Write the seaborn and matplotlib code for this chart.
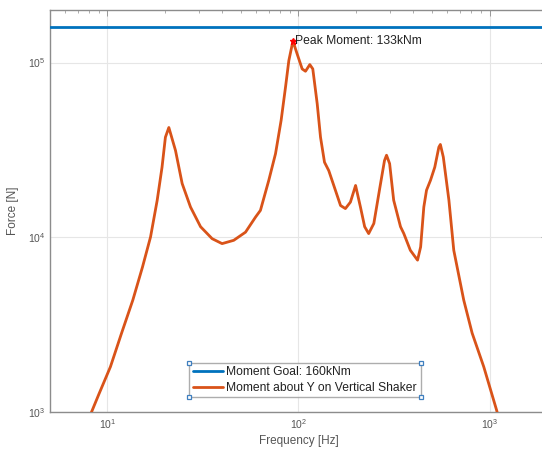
import numpy as np
import pandas as pd
import matplotlib
matplotlib.use("Agg")
import matplotlib.pyplot as plt
import seaborn as sns
from matplotlib.ticker import LogLocator, NullFormatter
from matplotlib.lines import Line2D

# ---- data ----
freq_hz = [7.5, 8.25, 9.0, 10.36, 11.84, 13.57, 15.25, 16.8, 18.2, 19.3, 20.1, 20.95,
           22.7, 24.6, 27.2, 30.7, 35.3, 39.8, 45.8, 52.8, 59.6, 63.2, 69.9, 75.8,
           81.1, 85.5, 89.0, 93.5, 98.4, 104.5, 108.8, 114.6, 118.8, 125.3, 130.4,
           136.8, 144, 156, 166, 176, 187, 199, 211, 222, 233, 248, 267, 282, 289,
           300, 315, 342, 356, 385, 420, 436, 453, 468, 491, 517, 543, 553, 573,
           613, 650, 733, 811, 933, 1089, 1200]
force_n = [790, 1000, 1260, 1815, 2820, 4370, 6760, 10040, 16260, 25200, 37400, 42500,
           31400, 20300, 14900, 11500, 9820, 9200, 9610, 10700, 13060, 14260, 21200, 30100,
           46700, 72300, 102600, 133000, 112000, 92000, 89200, 97400, 92000, 58100, 37400,
           26900, 24100, 18600, 15200, 14600, 15900, 19800, 14900, 11500, 10500, 12000, 19400, 27500, 29500,
           26400, 16300, 11500, 10500, 8430, 7400, 8810, 14900, 18600, 21200, 25200, 32800, 34000, 28800,
           16300, 8430, 4370, 2830, 1815, 1026, 685]
goal_n = 160000
peak_freq = 93.5
peak_force = 133000
series_goal = "Moment Goal: 160kNm"
series_moment = "Moment about Y on Vertical Shaker"
peak_label = "Peak Moment: 133kNm"
x_label = "Frequency [Hz]"
y_label = "Force [N]"

sns.set_style("white")
plt.rcParams["font.family"] = ["Liberation Sans", "DejaVu Sans"]
plt.rcParams["mathtext.fontset"] = "custom"
plt.rcParams["mathtext.rm"] = "Liberation Sans"

blue = "#0072BD"
orange = "#D95319"
spine_c = "#8c8c8c"

fig = plt.figure(figsize=(5.42, 4.5), dpi=100)
ax = fig.add_axes([50 / 542, 1 - 412 / 450, 497 / 542, 402 / 450])

df = pd.DataFrame({"freq": freq_hz, "force": force_n})
ax.axhline(goal_n, color=blue, lw=2.0, label=series_goal, zorder=3)
sns.lineplot(data=df, x="freq", y="force", ax=ax, color=orange, lw=2.0,
             label=series_moment, sort=False, zorder=4)
ax.plot([peak_freq], [peak_force], marker="*", color="red", ms=5, ls="none", zorder=5)
ax.text(peak_freq * 1.03, peak_force, peak_label, fontsize=8.7, color="#222222",
        va="center", ha="left", zorder=6)

ax.set_xscale("log")
ax.set_yscale("log")
ax.set_xlim(5, 2000)
ax.set_ylim(1e3, 2e5)

ax.xaxis.set_major_locator(LogLocator(base=10, numticks=10))
ax.xaxis.set_minor_locator(LogLocator(base=10, subs=np.arange(2, 10), numticks=20))
ax.yaxis.set_major_locator(LogLocator(base=10, numticks=10))
ax.yaxis.set_minor_locator(LogLocator(base=10, subs=np.arange(2, 10), numticks=20))
ax.xaxis.set_minor_formatter(NullFormatter())
ax.yaxis.set_minor_formatter(NullFormatter())

ax.grid(True, which="major", color="#e6e6e6", lw=0.8)
ax.set_axisbelow(True)
ax.tick_params(which="both", direction="in", top=True, right=True, color=spine_c,
               labelsize=7.5, labelcolor="#555555")
ax.tick_params(which="major", length=4, width=0.6)
ax.tick_params(which="minor", length=2, width=0.5)
for s in ax.spines.values():
    s.set_color(spine_c)
    s.set_linewidth(1.0)

ax.set_xlabel(x_label, fontsize=8.5, color="#555555", labelpad=3)
ax.set_ylabel(y_label, fontsize=8.5, color="#555555", labelpad=6)

leg = ax.legend(loc="center", bbox_to_anchor=((305 - 50) / 497, 1 - (380 - 10) / 402),
                fontsize=8.7, frameon=True, fancybox=False, handlelength=2.5,
                borderpad=0.3, labelspacing=0.3, handletextpad=0.25, borderaxespad=0)
leg.get_frame().set_edgecolor("#999999")
leg.get_frame().set_linewidth(1.0)
for t in leg.get_texts():
    t.set_color("#222222")

# MATLAB-style edit handles at the legend corners
fig.canvas.draw()
bb = leg.get_frame().get_window_extent().transformed(fig.transFigure.inverted())
hx = [bb.x0, bb.x1, bb.x0, bb.x1]
hy = [bb.y0, bb.y0, bb.y1, bb.y1]
fig.add_artist(Line2D(hx, hy, transform=fig.transFigure, ls="none", marker="s",
                      ms=3.5, mfc="white", mec="#3f7fbf", mew=0.9, zorder=10))

fig.savefig("out.png", dpi=100)
